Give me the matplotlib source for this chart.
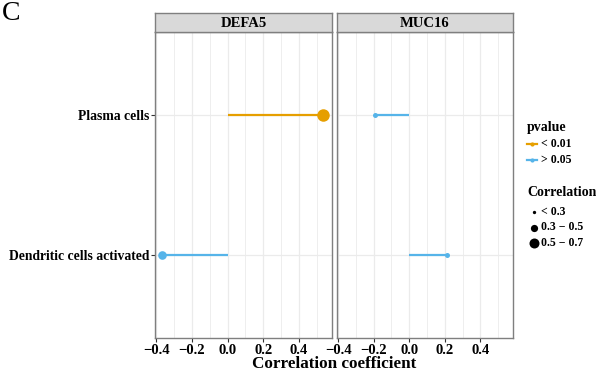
import matplotlib

matplotlib.use("Agg")
import matplotlib.pyplot as plt
import numpy as np
from matplotlib.lines import Line2D

# données
genes = ["DEFA5", "MUC16"]
cells = ["Dendritic cells activated", "Plasma cells"]
corr = {
    "DEFA5": [-0.366, 0.535],
    "MUC16": [0.214, -0.19],
}
pval_group = {
    "DEFA5": ["> 0.05", "< 0.01"],
    "MUC16": ["> 0.05", "> 0.05"],
}
xticks = [-0.4, -0.2, 0.0, 0.2, 0.4]
size_labels = ["< 0.3", "0.3 − 0.5", "0.5 − 0.7"]

colors = {"< 0.01": "#E69F00", "> 0.05": "#56B4E9"}
size_pts = [3.6, 6.2, 9.0]  # diamètre en points (panneaux)
legend_pts = [2.4, 5.2, 7.2]  # diamètre en points (légende)


def size_of(r):
    a = abs(r)
    if a < 0.3:
        return size_pts[0]
    if a < 0.5:
        return size_pts[1]
    return size_pts[2]


plt.rcParams["font.family"] = ["Liberation Serif", "DejaVu Serif"]
plt.rcParams["font.weight"] = "bold"

W, H = 596, 371
fig = plt.figure(figsize=(W / 100, H / 100), dpi=100)

panels = [(155, 332), (337, 513)]
top, bottom, strip_top = 32, 338, 13
xlim = (-0.406, 0.584)

for k, (gene, (x0, x1)) in enumerate(zip(genes, panels)):
    ax = fig.add_axes((x0 / W, 1 - bottom / H, (x1 - x0) / W, (bottom - top) / H))
    ax.set_xlim(*xlim)
    ax.set_ylim(0.4, 2.6)
    ax.set_facecolor("white")
    for v in np.arange(-0.4, 0.6, 0.1):
        ax.axvline(v, color="#EBEBEB", lw=0.6 if abs(round(v * 10)) % 2 else 0.9, zorder=0)
    for yy in [1, 2]:
        ax.axhline(yy, color="#EBEBEB", lw=0.9, zorder=0)
    for i, (cell, r) in enumerate(zip(cells, corr[gene])):
        c = colors[pval_group[gene][i]]
        ax.plot([0, r], [i + 1, i + 1], color=c, lw=1.6, zorder=2, solid_capstyle="butt")
        ax.scatter([r], [i + 1], s=size_of(r) ** 2, color=c, zorder=3, linewidths=0)
    for s in ax.spines.values():
        s.set_color("#7F7F7F")
        s.set_linewidth(1.0)
    ax.set_xticks(xticks)
    ax.set_xticklabels([f"{t:.1f}".replace("-", "−") for t in xticks], fontsize=10.5)
    ax.tick_params(axis="x", length=3, color="#333333", pad=1)
    ax.set_yticks([1, 2])
    if k == 0:
        ax.set_yticklabels(cells, fontsize=9.8)
        ax.tick_params(axis="y", length=3, color="#333333", pad=1)
    else:
        ax.set_yticklabels([])
        ax.tick_params(axis="y", length=0)

    sax = fig.add_axes((x0 / W, 1 - top / H, (x1 - x0) / W, (top - strip_top) / H))
    sax.set_facecolor("#D9D9D9")
    sax.set_xticks([])
    sax.set_yticks([])
    for s in sax.spines.values():
        s.set_color("#7F7F7F")
        s.set_linewidth(1.0)
    sax.text(0.5, 0.45, gene, ha="center", va="center", fontsize=10.5,
             fontweight="bold", transform=sax.transAxes)

fig.text((155 + 513) / 2 / W, 1 - 364 / H, "Correlation coefficient",
         ha="center", va="center", fontsize=12.3, fontweight="bold")
fig.text(2 / W, 1 - 1 / H, "C", ha="left", va="top", fontsize=20, fontweight="normal")

# légendes
lx = 527 / W
fig.text(lx, 1 - 128 / H, "pvalue", fontsize=10, fontweight="bold", va="center")
for j, lab in enumerate(["< 0.01", "> 0.05"]):
    yy = 1 - (144 + 16 * j) / H
    fig.add_artist(Line2D([lx, lx + 10 / W], [yy, yy], color=colors[lab], lw=1.6,
                          transform=fig.transFigure))
    fig.add_artist(Line2D([lx + 5 / W], [yy], color=colors[lab], marker="o", ms=3,
                          mew=0, transform=fig.transFigure))
    fig.text(lx + 14 / W, yy, lab, fontsize=8.5, fontweight="bold", va="center")

fig.text(lx, 1 - 193 / H, "Correlation", fontsize=10, fontweight="bold", va="center")
for j, lab in enumerate(size_labels):
    yy = 1 - (212 + 15.5 * j) / H
    fig.add_artist(Line2D([lx + 7 / W], [yy], color="black", marker="o", ms=legend_pts[j],
                          mew=0, transform=fig.transFigure))
    fig.text(lx + 14 / W, yy, lab, fontsize=8.5, fontweight="bold", va="center")

fig.savefig("out.png", dpi=100)
